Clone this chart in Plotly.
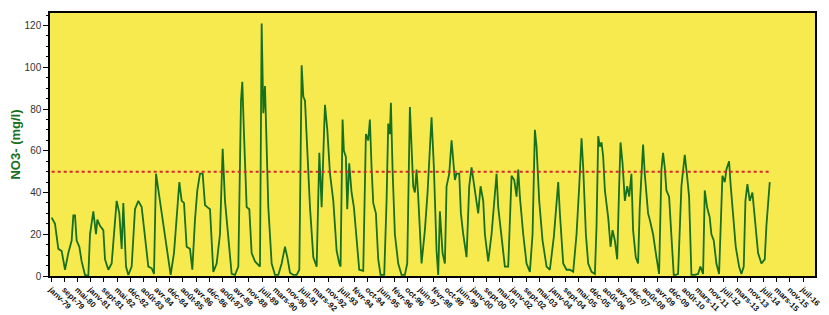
import plotly.graph_objects as go

# decimal years of the traced samples
years = [
    1979.083, 1979.249, 1979.415, 1979.581, 1979.747, 1979.913, 1980.079, 1980.162, 1980.245, 1980.328,
    1980.461, 1980.577, 1980.743, 1980.909, 1980.992, 1981.158, 1981.291, 1981.357, 1981.490, 1981.656,
    1981.739, 1981.905, 1982.071, 1982.187, 1982.320, 1982.453, 1982.569, 1982.652, 1982.785, 1982.901,
    1983.067, 1983.233, 1983.399, 1983.565, 1983.731, 1983.897, 1984.063, 1984.179, 1984.279, 1984.395,
    1984.561, 1984.727, 1984.893, 1985.009, 1985.175, 1985.308, 1985.441, 1985.557, 1985.673, 1985.806,
    1985.972, 1986.088, 1986.221, 1986.337, 1986.470, 1986.603, 1986.719, 1986.835, 1986.968, 1987.134,
    1987.300, 1987.466, 1987.599, 1987.715, 1987.881, 1988.047, 1988.213, 1988.379, 1988.512, 1988.578,
    1988.661, 1988.794, 1988.927, 1989.043, 1989.209, 1989.375, 1989.458, 1989.541, 1989.624, 1989.707,
    1989.790, 1989.873, 1990.039, 1990.205, 1990.371, 1990.537, 1990.703, 1990.819, 1990.952, 1991.118,
    1991.284, 1991.417, 1991.533, 1991.616, 1991.699, 1991.782, 1991.948, 1992.114, 1992.280, 1992.413,
    1992.529, 1992.645, 1992.695, 1992.811, 1992.944, 1993.110, 1993.276, 1993.409,
    1993.471, 1993.571, 1993.637, 1993.737, 1993.803, 1993.903, 1994.019, 1994.135, 1994.268, 1994.401,
    1994.600, 1994.733, 1994.849, 1994.932, 1995.015, 1995.098, 1995.231, 1995.347, 1995.463, 1995.646,
    1995.762, 1995.845, 1995.928, 1995.978, 1996.061, 1996.177, 1996.343, 1996.509, 1996.675, 1996.791,
    1996.924, 1997.007, 1997.090, 1997.173, 1997.256, 1997.339, 1997.505, 1997.671, 1997.804, 1997.920,
    1998.003, 1998.119, 1998.252, 1998.335, 1998.418, 1998.551, 1998.667, 1998.750, 1998.883, 1999.000,
    1999.082, 1999.165, 1999.248, 1999.381, 1999.464, 1999.580, 1999.746, 1999.879, 1999.995, 2000.078,
    2000.178, 2000.327, 2000.443, 2000.576, 2000.659, 2000.825, 2000.991, 2001.157, 2001.240, 2001.323,
    2001.489, 2001.655, 2001.821, 2001.987, 2002.120, 2002.236, 2002.319, 2002.402, 2002.568, 2002.734,
    2002.900, 2003.033, 2003.149, 2003.232, 2003.365, 2003.531, 2003.730, 2003.896, 2004.095, 2004.311,
    2004.394, 2004.560, 2004.726, 2004.892, 2005.058, 2005.224, 2005.357, 2005.473, 2005.556, 2005.689,
    2005.805, 2005.971, 2006.138, 2006.220, 2006.303, 2006.386, 2006.469, 2006.552, 2006.635, 2006.801,
    2006.917, 2007.017, 2007.133, 2007.249, 2007.349, 2007.415, 2007.515, 2007.631, 2007.748, 2007.847,
    2007.957, 2008.040, 2008.173, 2008.289, 2008.372, 2008.455, 2008.538, 2008.621, 2008.787, 2008.870,
    2009.036, 2009.202, 2009.335, 2009.451, 2009.534, 2009.617, 2009.700, 2009.833, 2009.949, 2010.065,
    2010.165, 2010.281, 2010.447, 2010.613, 2010.729, 2010.829, 2010.945, 2011.111, 2011.277, 2011.393,
    2011.526, 2011.609, 2011.725, 2011.858, 2011.941, 2012.057, 2012.190, 2012.323, 2012.489, 2012.605,
    2012.688, 2012.821, 2012.904, 2013.020, 2013.153, 2013.319, 2013.435, 2013.551, 2013.634, 2013.734,
    2013.850, 2013.983, 2014.099, 2014.265, 2014.431, 2014.597, 2014.680, 2014.763, 2014.846,
]

# NO3- concentration (mg/l)
no3 = [
    28, 25, 13, 12, 3, 11, 17, 29, 29, 17,
    14, 7, 0.5, 0, 20, 31, 20, 27, 24, 22,
    8, 3, 6, 20, 36, 30, 13, 35, 4.5, 0.5,
    4.5, 32, 36, 33, 17, 4.5, 3.7, 1, 49, 41,
    30, 20, 6, 0.5, 11, 30, 45, 36, 35, 14,
    13, 3, 27, 41, 49, 49, 34, 33, 32, 2,
    6, 20, 61, 36, 17, 1, 0.5, 4.5, 84, 93,
    68, 33, 32, 11, 7, 5, 4.5, 121, 78, 91,
    59, 33, 6, 0.5, 0.5, 6, 14, 9, 1.6, 0.5,
    0.5, 3, 101, 86, 84, 65, 33, 9, 4.5, 59,
    33, 68, 82, 70, 49, 36, 12, 6,
    4.5, 75, 60, 57, 32, 54, 40, 33, 16, 3,
    2.5, 68, 65, 75, 52, 35, 30, 8, 0.5, 0.5,
    36, 73, 68, 83, 51, 20, 6, 0.5, 0.5, 6,
    81, 65, 43, 40, 51, 38, 6, 22, 40, 61,
    76, 52, 12, 0.5, 31, 11, 6, 43, 49, 65,
    57, 46, 49, 49, 30, 20, 9, 43, 52, 46,
    40, 30, 43, 36, 20, 7, 20, 38, 49, 33,
    20, 4.5, 4.5, 48, 46, 38, 51, 38, 20, 6,
    2, 20, 70, 62, 36, 17, 4.5, 3, 19, 45,
    30, 6, 3, 3, 2, 20, 43, 66, 52, 20,
    6, 2, 1, 24, 67, 62, 64, 57, 41, 28,
    14, 22, 17, 8, 44, 64, 54, 36, 43, 38,
    49, 22, 9, 6, 33, 46, 63, 49, 30, 27,
    20, 9, 1, 51, 59, 52, 41, 38, 20, 0.5,
    0.5, 1, 43, 58, 48, 38, 0.5, 0.5, 1, 4.5,
    1, 41, 33, 28, 20, 17, 6, 1, 48, 45,
    51, 55, 43, 30, 14, 4.5, 1, 4.5, 36, 44,
    36, 40, 28, 11, 6, 8, 24, 36, 45,
]

limit_value = 50

tick_labels = [
    "janv-79", "sept-79", "mai-80", "janv-81", "sept-81", "mai-82", "déc-82", "août-83",
    "avr-84", "déc-84", "août-85", "avr-86", "déc-86", "août-87", "avr-88", "nov-88",
    "juil-89", "mars-90", "nov-90", "juil-91", "mars-92", "nov-92", "juil-93", "févr-94",
    "oct-94", "juin-95", "févr-96", "oct-96", "juin-97", "févr-98", "oct-98", "juin-99",
    "janv-00", "sept-00", "mai-01", "janv-02", "sept-02", "mai-03", "janv-04", "sept-04",
    "mai-05", "déc-05", "août-06", "avr-07", "déc-07", "août-08", "avr-09", "déc-09",
    "août-10", "mars-11", "nov-11", "juil-12", "mars-13", "nov-13", "juil-14", "mars-15",
    "nov-15", "juil-16",
]
tick_start = 1979.052
tick_step_years = 240 / 365.25
tick_vals = [tick_start + i * tick_step_years for i in range(len(tick_labels))]

fig = go.Figure()
fig.add_trace(go.Scatter(
    x=years, y=no3, mode="lines",
    line=dict(color="#17701e", width=1.8),
    showlegend=False,
))
fig.add_trace(go.Scatter(
    x=[years[0], years[-1]], y=[limit_value, limit_value], mode="lines",
    line=dict(color="#d8262e", width=2, dash="dot"),
    showlegend=False,
))

# the page body adds an 8 px offset, so the figure is sized to fill the remaining window
fig.update_layout(
    width=821, height=307,
    margin=dict(l=42, r=14, t=5, b=39),
    paper_bgcolor="white",
    plot_bgcolor="#f6ea4f",
    font=dict(family="Liberation Sans, Arial, sans-serif", color="#222"),
)
fig.update_xaxes(
    range=[1979.0, 2017.1],
    tickmode="array", tickvals=tick_vals,
    ticktext=["<b>" + t + "</b>" for t in tick_labels],
    tickangle=45, tickfont=dict(size=8, color="#111"),
    ticks="outside", ticklen=4, tickcolor="black",
    showline=True, linecolor="black", linewidth=1.5, mirror=True,
    showgrid=False, zeroline=False, automargin=False,
)
fig.update_yaxes(
    range=[0, 126], dtick=20, tick0=0,
    tickfont=dict(size=10, color="#333"),
    ticks="outside", ticklen=5, tickcolor="black",
    minor=dict(ticks="outside", ticklen=2, dtick=5, tickcolor="black"),
    showline=True, linecolor="black", linewidth=1.5, mirror=True,
    showgrid=False, zeroline=False, automargin=False,
    title=dict(text="<b>NO3- (mg/l)</b>", font=dict(size=13, color="#17701e"), standoff=8),
)

fig.write_html("out.html")
